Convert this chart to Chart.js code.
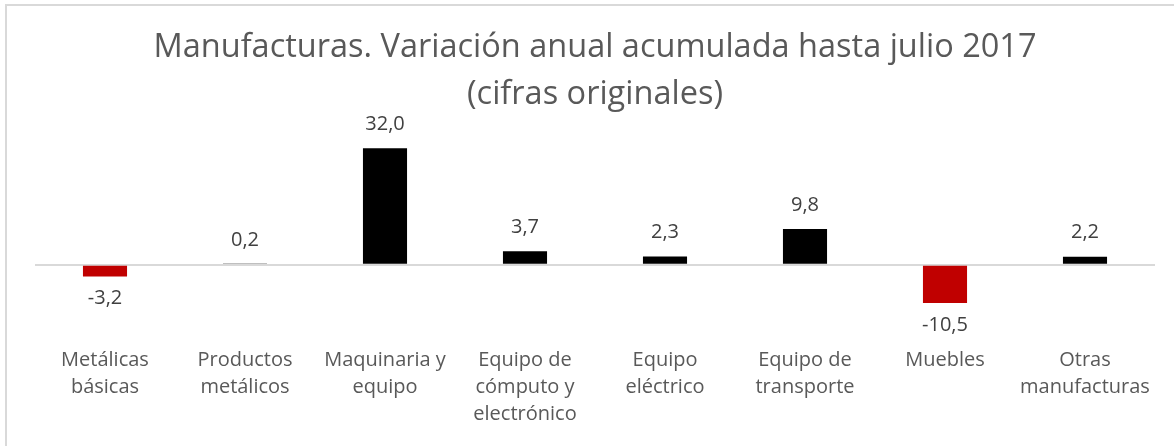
<!DOCTYPE html>
<html>
<head>
<meta charset="utf-8">
<script src="https://cdn.jsdelivr.net/npm/chart.js@4"></script>
<style>
  html, body { margin: 0; padding: 0; background: #fff; overflow: hidden; }
  #frame {
    position: absolute; left: 5px; top: 4px;
    width: 1169px; height: 442px;
    border-left: 2px solid #d9d9d9; border-top: 2px solid #d9d9d9;
  }
  #chart { display: block; }
</style>
</head>
<body>
<div id="frame"><canvas id="chart" width="1167" height="440"></canvas></div>
<script>
const categories = [
  ['Metálicas', 'básicas'],
  ['Productos', 'metálicos'],
  ['Maquinaria y', 'equipo'],
  ['Equipo de', 'cómputo y', 'electrónico'],
  ['Equipo', 'eléctrico'],
  ['Equipo de', 'transporte'],
  ['Muebles'],
  ['Otras', 'manufacturas']
];
const variacion = [-3.2, 0.2, 32.0, 3.7, 2.3, 9.8, -10.5, 2.2];
const titleLines = ['Manufacturas. Variación anual acumulada hasta julio 2017', '(cifras originales)'];

var fontFam = '"Open Sans", "DejaVu Sans", sans-serif';

// etiquetas de valor encima / debajo de cada barra
const valueLabels = {
  id: 'valueLabels',
  afterDatasetsDraw(chart) {
    const ctx = chart.ctx;
    const meta = chart.getDatasetMeta(0);
    ctx.save();
    ctx.font = '20px ' + fontFam;
    ctx.fillStyle = '#404040';
    ctx.textAlign = 'center';
    ctx.textBaseline = 'middle';
    meta.data.forEach((bar, i) => {
      let v = variacion[i];
      let txt = v.toFixed(1).replace('.', ',');
      if (v >= 0) {
        ctx.fillText(txt, bar.x, bar.y - 24);
      } else {
        ctx.fillText(txt, bar.x, bar.y + 22);
      }
    });
    ctx.restore();
  }
};

new Chart(document.getElementById('chart'), {
  type: 'bar',
  data: {
    labels: categories,
    datasets: [{
      data: variacion,
      backgroundColor: variacion.map(v => v < 0 ? '#c00000' : '#000000'),
      barPercentage: 0.5,
      categoryPercentage: 0.63
    }]
  },
  options: {
    responsive: false,
    animation: false,
    layout: { padding: { left: 28, right: 19, top: 6, bottom: 18 } },
    plugins: {
      legend: { display: false },
      tooltip: { enabled: false },
      title: {
        display: true,
        text: titleLines,
        color: '#595959',
        font: { family: fontFam, size: 32.5, weight: 'normal', lineHeight: 1.45 },
        padding: { top: 12.5, bottom: 4.5 }
      }
    },
    scales: {
      x: {
        grid: { display: false },
        border: { display: false },
        ticks: {
          color: '#595959',
          font: { family: fontFam, size: 20, lineHeight: 1.35 },
          padding: 0,
          maxRotation: 0,
          autoSkip: false
        }
      },
      y: {
        min: -20.4,
        max: 38.9,
        display: true,
        ticks: { display: false },
        border: { display: false },
        grid: {
          drawTicks: false,
          lineWidth: 2,
          color: (c) => c.tick && c.tick.value === 0 ? '#d9d9d9' : 'rgba(0,0,0,0)'
        }
      }
    }
  },
  plugins: [valueLabels]
});
</script>
</body>
</html>
